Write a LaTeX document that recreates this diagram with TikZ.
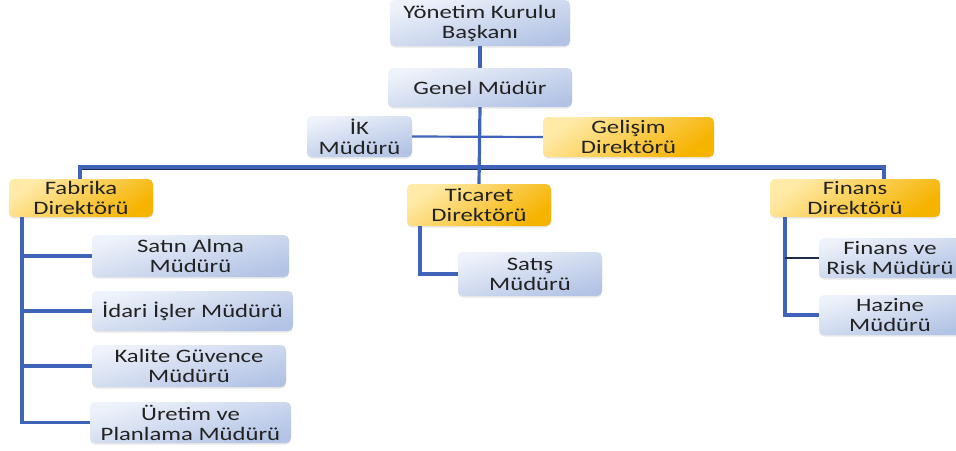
\documentclass[tikz,border=0pt]{standalone}
\usepackage{fontspec}
\setmainfont{Carlito}[FakeStretch=1.3]
\usetikzlibrary{shadows}
\definecolor{txt}{HTML}{222222}
\definecolor{lnblue}{HTML}{3F63B8}
\definecolor{navy}{HTML}{1F2A50}
\definecolor{bluetop}{HTML}{EEF2FA}
\definecolor{bluebot}{HTML}{B2C3E5}
\definecolor{goldtop}{HTML}{FFEAA8}
\definecolor{goldbot}{HTML}{F6B300}
\tikzset{
  box/.style={rounded corners=5pt, draw=none, align=center, text=txt,
    font=\fontsize{19}{20}\selectfont, inner sep=0pt,
    drop shadow={shadow xshift=0pt, shadow yshift=-1.5pt, opacity=0.18}},
  bluebox/.style={box, top color=bluetop, bottom color=bluebot, shading angle=15},
  goldbox/.style={box, top color=goldtop, bottom color=goldbot, shading angle=35},
  conn/.style={draw=lnblue, line width=3.2pt},
  thin conn/.style={draw=lnblue, line width=2.2pt},
}
\begin{document}
\begin{tikzpicture}[x=1pt,y=-1pt]
\useasboundingbox (0,0) rectangle (956,450);
% boxes
\node[bluebox, minimum width=180pt, minimum height=46pt] (ykb) at (480,23) {Yönetim Kurulu\\Başkanı};
\node[bluebox, minimum width=184pt, minimum height=39pt] (gm) at (480,87.5) {Genel Müdür};
\node[bluebox, minimum width=105pt, minimum height=41pt] (ik) at (359.5,136.5) {İK\\Müdürü};
\node[goldbox, minimum width=171pt, minimum height=40pt] (gel) at (628.5,137) {Gelişim\\Direktörü};
\node[goldbox, minimum width=144pt, minimum height=38pt] (fab) at (81,198) {Fabrika\\Direktörü};
\node[goldbox, minimum width=144pt, minimum height=42pt] (tic) at (479,205) {Ticaret\\Direktörü};
\node[goldbox, minimum width=170pt, minimum height=38pt] (fin) at (855,198) {Finans\\Direktörü};
\node[bluebox, minimum width=197pt, minimum height=42pt] (sa) at (190.5,256) {Satın Alma\\Müdürü};
\node[bluebox, minimum width=201pt, minimum height=40pt] (id) at (192.5,311) {İdari İşler Müdürü};
\node[bluebox, minimum width=194pt, minimum height=42pt] (kg) at (189,366) {Kalite Güvence\\Müdürü};
\node[bluebox, minimum width=201pt, minimum height=41pt] (ur) at (190.5,422.5) {Üretim ve\\Planlama Müdürü};
\node[bluebox, minimum width=144pt, minimum height=44pt] (sat) at (530,274) {Satış\\Müdürü};
\node[bluebox, minimum width=142pt, minimum height=40pt] (fr) at (890,258) {Finans ve\\Risk Müdürü};
\node[bluebox, minimum width=142pt, minimum height=40pt] (hz) at (890,315) {Hazine\\Müdürü};
% coordinates
\coordinate (bL) at (80,167);
\coordinate (bR) at (884,167);
\coordinate (ftr) at (22,0);
\coordinate (ttr) at (420,0);
\coordinate (rtr) at (785,0);
% connectors
\draw[conn] (ykb.south) -- (gm.north);
\draw[thin conn] (ik.east) -- (gel.west);
\draw[draw=navy, line width=1.5pt] ([yshift=-2pt]bL) -- ([yshift=-2pt]bR);
\draw[conn] (bL |- fab.north) -- (bL) -- (bR) -- (bR |- fin.north);
\draw[conn] (gm.south) -- (tic.north);
\draw[conn] (ftr |- fab.south) |- (ur.west);
\draw[conn] (ftr |- sa.west) -- (sa.west);
\draw[conn] (ftr |- id.west) -- (id.west);
\draw[conn] (ftr |- kg.west) -- (kg.west);
\draw[conn] (ttr |- tic.south) |- (sat.west);
\draw[conn] (rtr |- fin.south) |- (hz.west);
\draw[draw=navy, line width=2pt] (rtr |- fr.west) -- (fr.west);
\end{tikzpicture}
\end{document}
